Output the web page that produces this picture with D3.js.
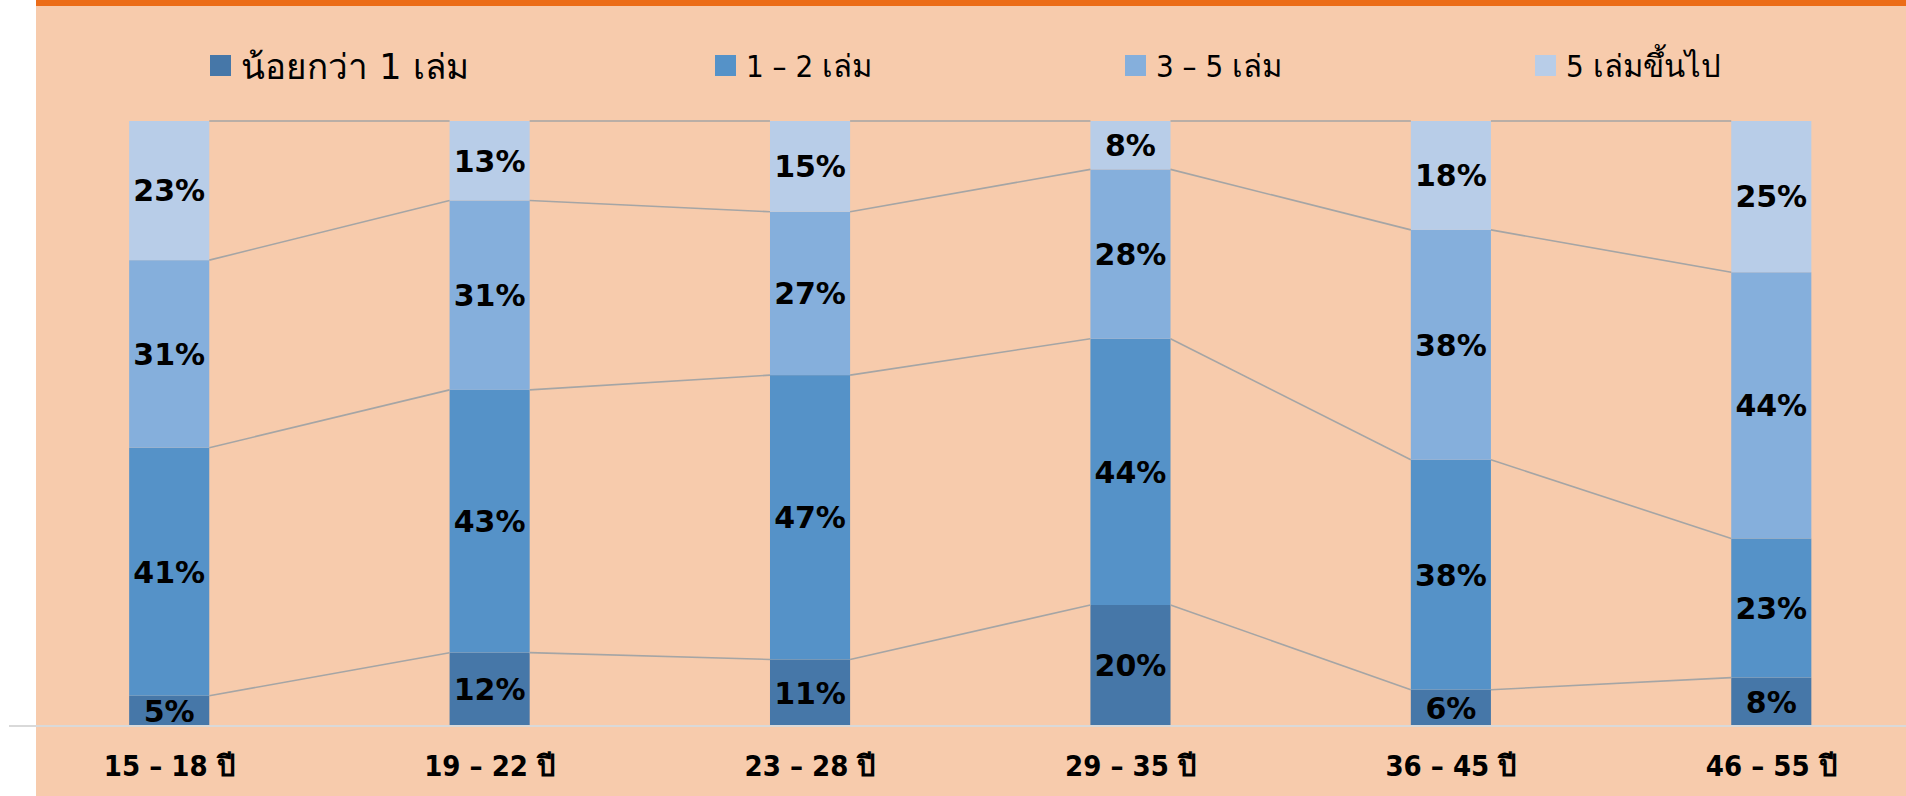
<!DOCTYPE html>
<html>
<head>
<meta charset="utf-8">
<script src="https://cdn.jsdelivr.net/npm/d3@7/dist/d3.min.js"></script>
<style>
  html, body { margin: 0; padding: 0; background: #ffffff; }
  svg { display: block; }
</style>
</head>
<body>
<svg id="chart" width="1906" height="796"></svg>
<script>
// Age groups (x axis)
const categories = ["15 – 18 ปี", "19 – 22 ปี", "23 – 28 ปี", "29 – 35 ปี", "36 – 45 ปี", "46 – 55 ปี"];
// Series names (legend), bottom to top in each stack
const seriesNames = ["น้อยกว่า 1 เล่ม", "1 – 2 เล่ม", "3 – 5 เล่ม", "5 เล่มขึ้นไป"];
// Percentage of respondents per age group, one array per series
const lessThanOne = [5, 12, 11, 20, 6, 8];
const oneToTwo    = [41, 43, 47, 44, 38, 23];
const threeToFive = [31, 31, 27, 28, 38, 44];
const fivePlus    = [23, 13, 15, 8, 18, 25];

const seriesValues = [lessThanOne, oneToTwo, threeToFive, fivePlus];
const colors = ["#4677a8", "#5592c8", "#85afdc", "#b8cde8"];

const W = 1906, H = 796;
const svg = d3.select("#chart");

// background panel
svg.append("rect").attr("x", 36).attr("y", 0).attr("width", W - 36).attr("height", H).attr("fill", "#f7cbac");
svg.append("rect").attr("x", 36).attr("y", 0).attr("width", W - 36).attr("height", 6).attr("fill", "#ec6c17");

// rows for the stack layout
const rows = categories.map((c, i) => {
  const r = { cat: c };
  seriesNames.forEach((s, j) => { r[s] = seriesValues[j][i]; });
  return r;
});

const stack = d3.stack().keys(seriesNames).offset(d3.stackOffsetExpand);
const stacked = stack(rows);

const x = d3.scaleBand().domain(categories).range([9, 1931.5]).paddingInner(0.75).paddingOuter(0.375);
const y = d3.scaleLinear().domain([0, 1]).range([726, 121]);
const bw = x.bandwidth();

// bars
const layers = svg.append("g").selectAll("g").data(stacked).join("g")
  .attr("fill", (d, i) => colors[i]);
layers.selectAll("rect").data(d => d).join("rect")
  .attr("x", d => x(d.data.cat))
  .attr("y", d => y(d[1]))
  .attr("width", bw)
  .attr("height", d => y(d[0]) - y(d[1]));

// series lines linking the top of each segment between neighbouring bars
const linesG = svg.append("g").attr("stroke", "#a5a5a5").attr("stroke-width", 1.6).attr("fill", "none");
stacked.forEach(layer => {
  for (let i = 0; i < layer.length - 1; i++) {
    linesG.append("line")
      .attr("x1", x(layer[i].data.cat) + bw)
      .attr("y1", y(layer[i][1]))
      .attr("x2", x(layer[i + 1].data.cat))
      .attr("y2", y(layer[i + 1][1]));
  }
});

// value labels
const labelsG = svg.append("g")
  .attr("font-family", "'DejaVu Sans', Verdana, sans-serif")
  .attr("font-weight", "bold")
  .attr("font-size", 30)
  .attr("text-anchor", "middle")
  .attr("fill", "#000");
stacked.forEach((layer, j) => {
  layer.forEach((d, i) => {
    labelsG.append("text")
      .attr("x", x(d.data.cat) + bw / 2)
      .attr("y", (y(d[0]) + y(d[1])) / 2)
      .attr("dy", "0.36em")
      .text(seriesValues[j][i] + "%");
  });
});

// category axis
const axis = d3.axisBottom(x).tickSize(0).tickPadding(0);
const axisG = svg.append("g").attr("transform", "translate(0,726)").call(axis);
axisG.select(".domain").remove();
axisG.selectAll("text")
  .attr("y", 50)
  .attr("dy", 0)
  .attr("font-family", "'DejaVu Sans Condensed', 'DejaVu Sans', Tahoma, sans-serif")
  .attr("font-weight", "bold")
  .attr("font-size", 29)
  .attr("fill", "#000");
svg.append("line")
  .attr("x1", 9).attr("x2", W)
  .attr("y1", 726).attr("y2", 726)
  .attr("stroke", "#d9d9d9").attr("stroke-width", 2);

// legend
const legendX = [210, 715, 1125, 1535];
const legend = svg.append("g").selectAll("g").data(seriesNames).join("g")
  .attr("transform", (d, i) => `translate(${legendX[i]},55)`);
legend.append("rect").attr("width", 21).attr("height", 21).attr("fill", (d, i) => colors[i]);
legend.append("text")
  .attr("x", 31)
  .attr("y", (d, i) => i === 0 ? 24 : 22)
  .attr("font-family", (d, i) => i === 0 ? "'DejaVu Sans', Tahoma, sans-serif" : "'DejaVu Sans Condensed', 'DejaVu Sans', sans-serif")
  .attr("font-size", (d, i) => i === 0 ? 35 : 31)
  .attr("fill", "#000")
  .text(d => d);
</script>
</body>
</html>
